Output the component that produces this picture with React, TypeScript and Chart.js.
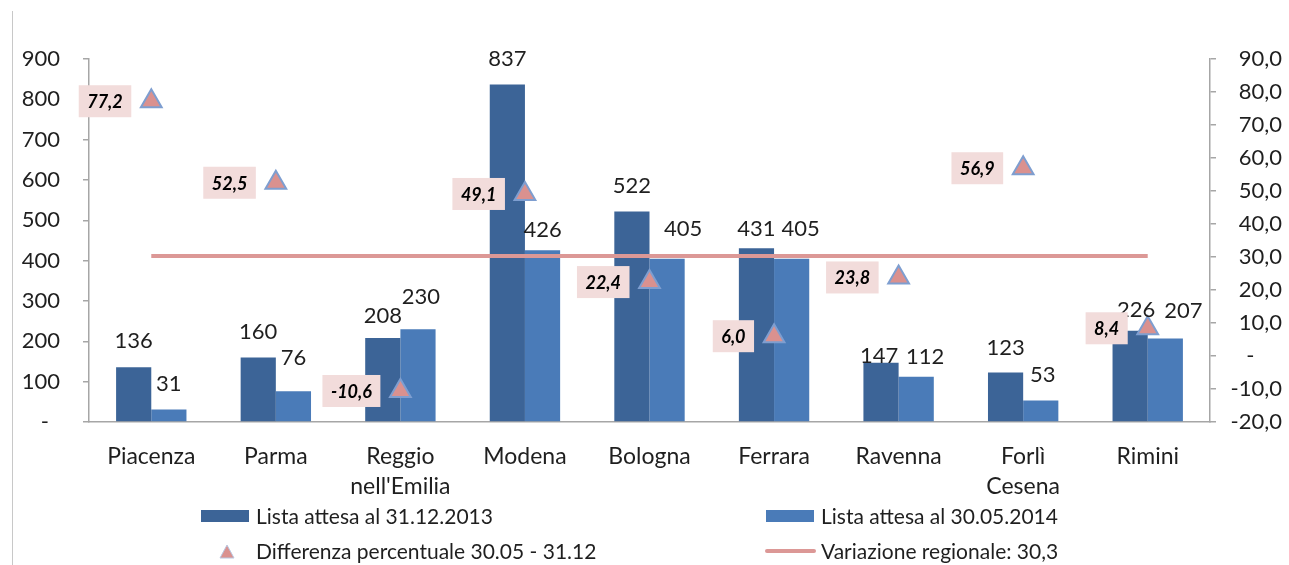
import React, { useEffect, useRef } from "react";
import { Chart, registerables } from "chart.js";

Chart.register(...registerables);

const provinces: (string | string[])[] = [
  "Piacenza",
  "Parma",
  ["Reggio", "nell'Emilia"],
  "Modena",
  "Bologna",
  "Ferrara",
  "Ravenna",
  ["Forlì", "Cesena"],
  "Rimini",
];
const waitlist2013 = [136, 160, 208, 837, 522, 431, 147, 123, 226];
const waitlist2014 = [31, 76, 230, 426, 405, 405, 112, 53, 207];
const pctDifference = [77.2, 52.5, -10.6, 49.1, 22.4, 6.0, 23.8, 56.9, 8.4];
const regionalVariation = [30.3, 30.3, 30.3, 30.3, 30.3, 30.3, 30.3, 30.3, 30.3];

const seriesNames = [
  "Lista attesa al 31.12.2013",
  "Lista attesa al 30.05.2014",
  "Differenza percentuale 30.05 - 31.12",
  "Variazione regionale: 30,3",
];

// label placement nudges (pixels, style only) relative to bar top
const darkLabelDx = [0, 0, 0, 0, 0, 0, -2, 0, 6];
const darkLabelDy = [-26, -26, -22, -26, -26, -19, -7, -24, -21];
const lightLabelDx = [0, 0, 3, 0, 16, 9, 9, 2, 18];
const lightLabelDy = [-26, -33, -32, -20, -30, -30, -20, -26, -28];

const DARK = "#3C6497";
const LIGHT = "#4A7BB8";
const PINK_LINE = "#DC9896";
const TRI_FILL = "#DA918F";
const TRI_BORDER = "#7E9ED0";
const BOX = "#F2DCDB";
const AXIS = "#A6A6A6";
const TEXT = "#1F1F1F";
const FONT = "Lato";

const fmt = (v: number) => v.toFixed(1).replace(".", ",");

const labelPlugin = {
  id: "valueLabels",
  afterDatasetsDraw(chart: any) {
    const ctx = chart.ctx;
    ctx.save();
    ctx.fillStyle = TEXT;
    ctx.font = `22px ${FONT}`;
    ctx.textAlign = "center";
    ctx.textBaseline = "middle";
    chart.getDatasetMeta(0).data.forEach((bar: any, i: number) => {
      ctx.fillText(String(waitlist2013[i]), bar.x + darkLabelDx[i], bar.y + darkLabelDy[i]);
    });
    chart.getDatasetMeta(1).data.forEach((bar: any, i: number) => {
      ctx.fillText(String(waitlist2014[i]), bar.x + lightLabelDx[i], bar.y + lightLabelDy[i]);
    });
    ctx.font = `italic bold 18px ${FONT}`;
    chart.getDatasetMeta(2).data.forEach((pt: any, i: number) => {
      const txt = fmt(pctDifference[i]);
      const w = ctx.measureText(txt).width + 17;
      const right = pt.x - 20;
      ctx.fillStyle = BOX;
      ctx.fillRect(right - w, pt.y - 16, w, 32);
      ctx.fillStyle = "#000";
      ctx.fillText(txt, right - w / 2, pt.y + 1);
    });
    ctx.restore();
  },
};

export default function App() {
  const ref = useRef<HTMLCanvasElement>(null);
  useEffect(() => {
    if (!ref.current) return;
    const chart = new Chart(ref.current, {
      type: "bar",
      data: {
        labels: provinces,
        datasets: [
          {
            type: "bar",
            label: seriesNames[0],
            data: waitlist2013,
            backgroundColor: DARK,
            yAxisID: "y",
            order: 3,
            categoryPercentage: 0.565,
            barPercentage: 1,
          },
          {
            type: "bar",
            label: seriesNames[1],
            data: waitlist2014,
            backgroundColor: LIGHT,
            yAxisID: "y",
            order: 3,
            categoryPercentage: 0.565,
            barPercentage: 1,
          },
          {
            type: "line",
            label: seriesNames[2],
            data: pctDifference,
            yAxisID: "y1",
            showLine: false,
            pointStyle: "triangle",
            pointRadius: 12,
            pointBackgroundColor: TRI_FILL,
            pointBorderColor: TRI_BORDER,
            pointBorderWidth: 2,
            order: 1,
          } as any,
          {
            type: "line",
            label: seriesNames[3],
            data: regionalVariation,
            yAxisID: "y1",
            borderColor: PINK_LINE,
            borderWidth: 4,
            pointRadius: 0,
            fill: false,
            order: 2,
          } as any,
        ],
      },
      options: {
        animation: false,
        responsive: true,
        maintainAspectRatio: false,
        layout: { padding: { top: 59, left: 0, right: 7, bottom: 0 } },
        plugins: {
          legend: { display: false },
          tooltip: { enabled: false },
        },
        scales: {
          x: {
            grid: { display: false, drawTicks: false },
            border: { display: true, color: AXIS, width: 1.5 },
            ticks: {
              color: TEXT,
              font: { family: FONT, size: 23, lineHeight: 1.3 },
              padding: 20,
              maxRotation: 0,
              autoSkip: false,
            },
            afterFit: (s: any) => {
              s.height = 143;
            },
          },
          y: {
            position: "left",
            min: 0,
            max: 900,
            grid: {
              drawOnChartArea: false,
              drawTicks: true,
              tickLength: 6,
              color: AXIS,
              lineWidth: 1.5,
            },
            border: { display: true, color: AXIS, width: 1.5 },
            ticks: {
              stepSize: 100,
              color: TEXT,
              font: { family: FONT, size: 22 },
              padding: 23,
              callback: (v: any) => (v === 0 ? "-\u2002" : String(v)),
            },
            afterFit: (s: any) => {
              s.width = 89;
            },
          },
          y1: {
            position: "right",
            min: -20,
            max: 90,
            grid: {
              drawOnChartArea: false,
              drawTicks: true,
              tickLength: 6,
              color: AXIS,
              lineWidth: 1.5,
            },
            border: { display: true, color: AXIS, width: 1.5 },
            ticks: {
              stepSize: 10,
              color: TEXT,
              font: { family: FONT, size: 22 },
              crossAlign: "far",
              padding: 10,
              callback: (v: any) => (v === 0 ? "-\u2003\u2002" : fmt(Number(v))),
            },
            afterFit: (s: any) => {
              s.width = 72;
            },
          },
        },
      },
      plugins: [labelPlugin],
    });
    return () => chart.destroy();
  }, []);

  const legendText: React.CSSProperties = {
    position: "absolute",
    fontFamily: FONT,
    fontSize: 21,
    lineHeight: "24px",
    color: TEXT,
    whiteSpace: "nowrap",
  };

  return (
    <div
      style={{
        position: "fixed",
        left: 0,
        top: 0,
        width: 1289,
        height: 565,
        background: "#fff",
        overflow: "hidden",
      }}
    >
      <div
        style={{
          position: "absolute",
          left: 12,
          top: 11,
          width: 0,
          height: 560,
          borderLeft: "1px solid #C8C8C8",
        }}
      />
      <div style={{ position: "absolute", left: 0, top: 0, width: 1289, height: 565 }}>
        <canvas ref={ref} />
      </div>
      <div style={{ position: "absolute", left: 201, top: 510, width: 48, height: 12, background: DARK }} />
      <div style={{ ...legendText, left: 256, top: 504 }}>{seriesNames[0]}</div>
      <div style={{ position: "absolute", left: 766, top: 510, width: 48, height: 12, background: LIGHT }} />
      <div style={{ ...legendText, left: 821, top: 504 }}>{seriesNames[1]}</div>
      <svg style={{ position: "absolute", left: 219, top: 544 }} width="16" height="15">
        <polygon points="8,1 15,14 1,14" fill={TRI_FILL} stroke="#B9C6E0" strokeWidth="1" />
      </svg>
      <div style={{ ...legendText, left: 256, top: 539 }}>{seriesNames[2]}</div>
      <div
        style={{
          position: "absolute",
          left: 765,
          top: 549,
          width: 51,
          height: 4,
          borderRadius: 2,
          background: PINK_LINE,
        }}
      />
      <div style={{ ...legendText, left: 821, top: 539 }}>{seriesNames[3]}</div>
    </div>
  );
}
